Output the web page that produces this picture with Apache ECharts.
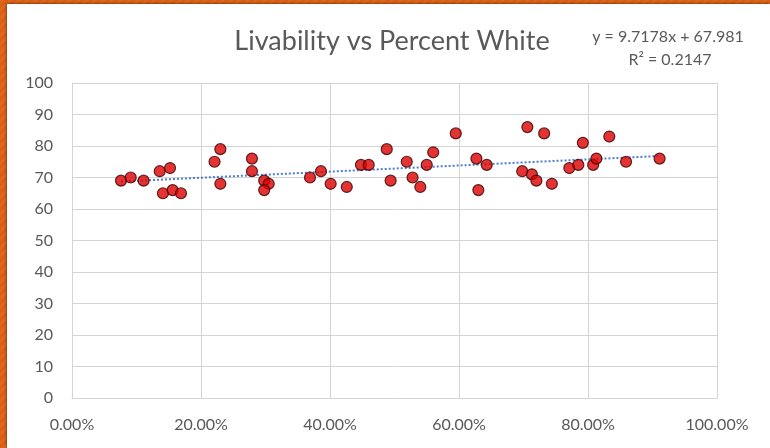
<!DOCTYPE html>
<html>
<head>
<meta charset="utf-8">
<script src="https://cdn.jsdelivr.net/npm/echarts@6/dist/echarts.min.js"></script>
<style>
  html, body { margin: 0; padding: 0; }
  body {
    width: 770px; height: 448px; overflow: hidden;
    background: repeating-linear-gradient(135deg, #e0651d 0px, #e0651d 3px, #d95e17 3px, #d95e17 6px);
  }
  #chart {
    position: absolute; left: 7px; top: 4px; width: 763px; height: 444px;
    background: #fff; box-shadow: -1px -1px 2px rgba(0,0,0,0.35);
  }
</style>
</head>
<body>
<div id="chart"></div>
<script>
// Percent white (fraction) and livability score per city
var percentWhite = [
  0.076, 0.091, 0.111, 0.136, 0.152, 0.141, 0.156, 0.169,
  0.230, 0.221, 0.230,
  0.279, 0.279, 0.298, 0.305, 0.298,
  0.369, 0.386, 0.401, 0.426, 0.448, 0.460, 0.488, 0.494,
  0.519, 0.528, 0.540, 0.550, 0.560, 0.595, 0.627, 0.643, 0.630,
  0.706, 0.732, 0.698, 0.713, 0.720, 0.744,
  0.771, 0.785, 0.792, 0.808, 0.813, 0.833, 0.859, 0.911
];
var livability = [
  69, 70, 69, 72, 73, 65, 66, 65,
  79, 75, 68,
  76, 72, 69, 68, 66,
  70, 72, 68, 67, 74, 74, 79, 69,
  75, 70, 67, 74, 78, 84, 76, 74, 66,
  86, 84, 72, 71, 69, 68,
  73, 74, 81, 74, 76, 83, 75, 76
];
// linear trendline from the chart label
var trendSlope = 9.7178;
var trendIntercept = 67.981;
var rSquared = 0.2147;

var xTicks = [0, 0.2, 0.4, 0.6, 0.8, 1];
var yTicks = [0, 10, 20, 30, 40, 50, 60, 70, 80, 90, 100];

var points = percentWhite.map(function (x, i) { return [x, livability[i]]; });
var xMin = Math.min.apply(null, percentWhite);
var xMax = Math.max.apply(null, percentWhite);
var trend = [
  [xMin, trendSlope * xMin + trendIntercept],
  [xMax, trendSlope * xMax + trendIntercept]
];

var font = "Lato, 'Open Sans', sans-serif";
var chart = echarts.init(document.getElementById('chart'));
chart.setOption({
  animation: false,
  grid: { left: 65, top: 79, right: 53, bottom: 50 },
  graphic: [
    {
      type: 'text', x: 385, y: 37,
      style: { text: 'Livability vs Percent White', fill: '#595959', font: '27px ' + font, align: 'center', verticalAlign: 'middle' }
    },
    {
      type: 'text', x: 661, y: 33,
      style: { text: 'y = ' + trendSlope + 'x + ' + trendIntercept, fill: '#595959', font: '16px ' + font, align: 'center', verticalAlign: 'middle' }
    },
    {
      type: 'text', x: 663, y: 56,
      style: { text: 'R² = ' + rSquared, fill: '#595959', font: '16px ' + font, align: 'center', verticalAlign: 'middle' }
    }
  ],
  xAxis: {
    type: 'value',
    min: xTicks[0], max: xTicks[xTicks.length - 1], interval: 0.2,
    axisLine: { show: true, lineStyle: { color: '#d4d4d4', width: 1 } },
    axisTick: { show: false },
    axisLabel: {
      color: '#595959', fontSize: 16, fontFamily: font, margin: 19,
      formatter: function (v) { return (v * 100).toFixed(2) + '%'; }
    },
    splitLine: { show: true, lineStyle: { color: '#d4d4d4', width: 1 } }
  },
  yAxis: {
    type: 'value',
    min: yTicks[0], max: yTicks[yTicks.length - 1], interval: 10,
    axisLine: { show: true, lineStyle: { color: '#d4d4d4', width: 1 } },
    axisTick: { show: false },
    axisLabel: { color: '#595959', fontSize: 16, fontFamily: font, margin: 19 },
    splitLine: { show: true, lineStyle: { color: '#d4d4d4', width: 1 } }
  },
  series: [
    {
      type: 'line',
      data: trend,
      symbol: 'none',
      lineStyle: { color: '#4a7fd0', width: 2, type: [2, 2] },
      z: 1
    },
    {
      type: 'scatter',
      data: points,
      symbolSize: 11,
      itemStyle: { color: '#dd0000', borderColor: '#3a0000', borderWidth: 1.2 },
      z: 2
    }
  ]
});
</script>
</body>
</html>
